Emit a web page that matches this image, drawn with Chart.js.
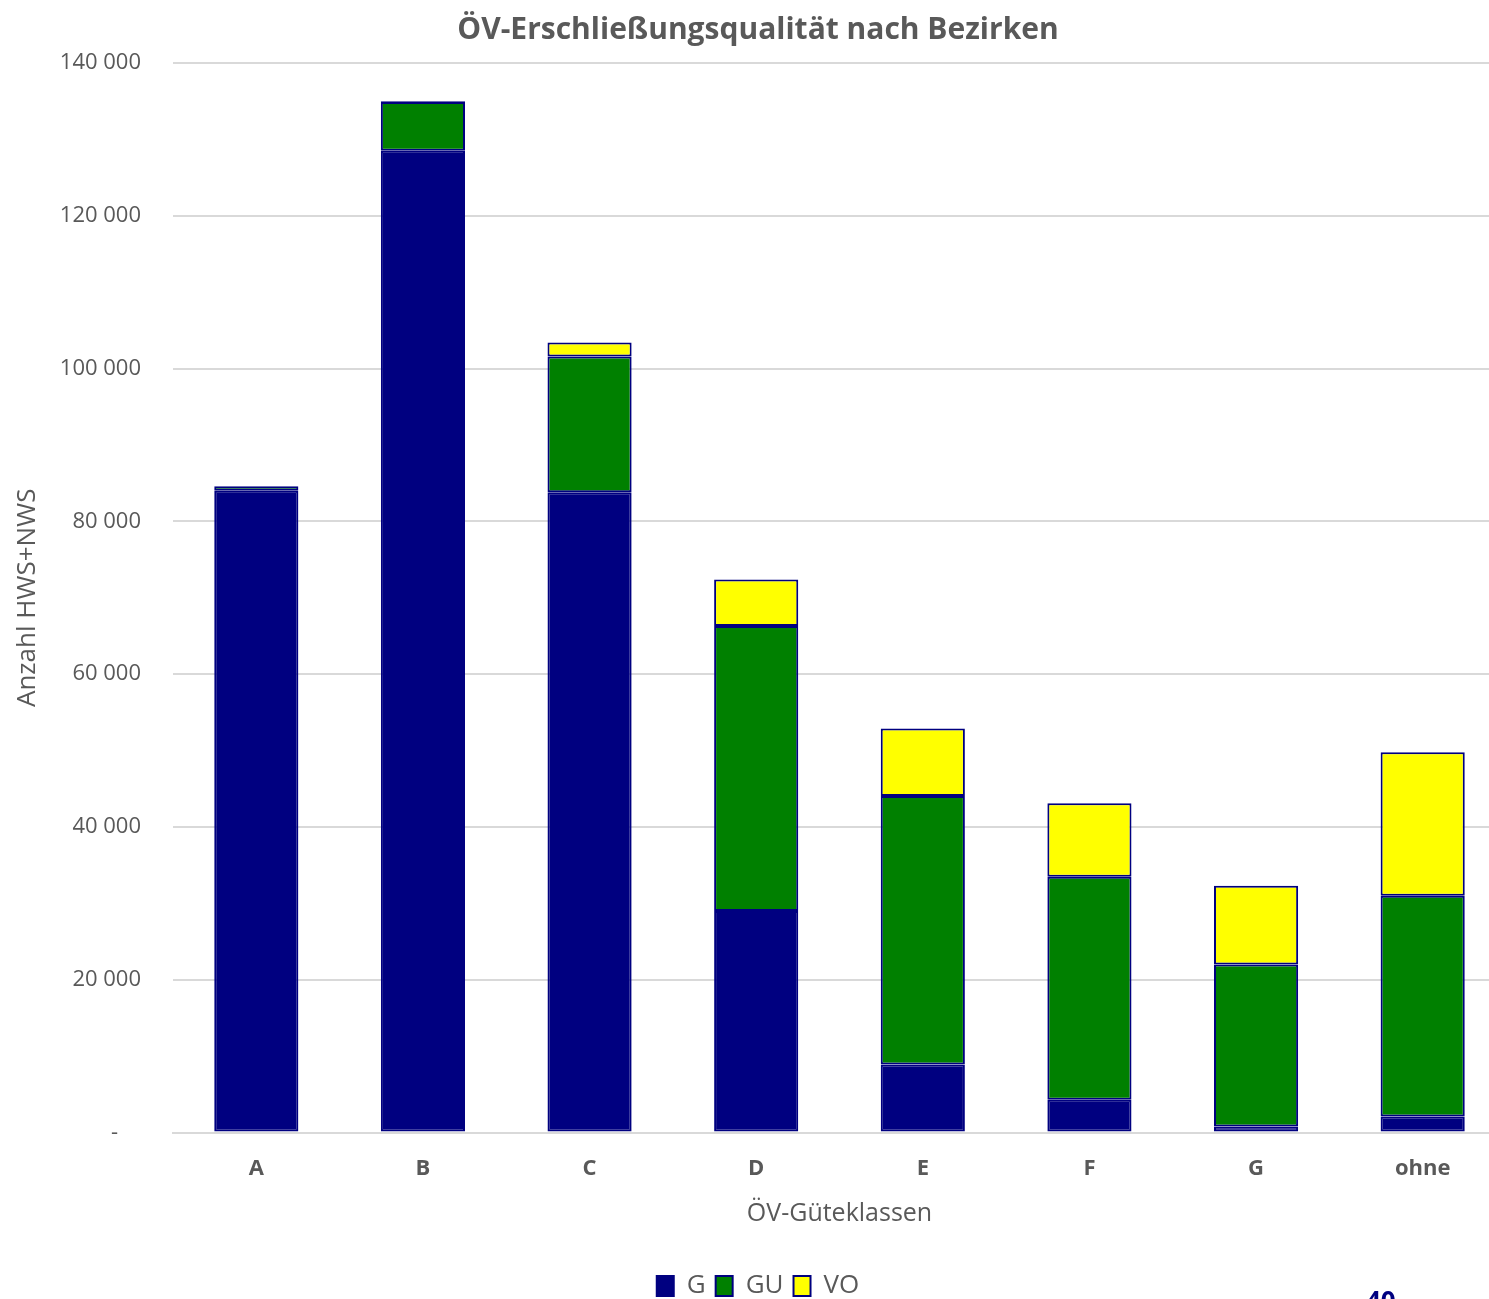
<!DOCTYPE html>
<html>
<head>
<meta charset="utf-8">
<script src="https://cdn.jsdelivr.net/npm/chart.js@4/dist/chart.umd.min.js"></script>
<style>
  html, body { margin: 0; padding: 0; background: #fff; overflow: hidden; width: 1489px; height: 1299px; }
  #wrap { position: absolute; left: 0; top: 0; width: 1512px; height: 1299px; }
  #pg { position: absolute; left: 1366px; top: 1282px; font: bold 26px "Open Sans", sans-serif; color: #000080; }
</style>
</head>
<body>
<div id="wrap"><canvas id="c"></canvas></div>
<div id="pg">40</div>
<script>
const categories = ['A', 'B', 'C', 'D', 'E', 'F', 'G', 'ohne'];
const seriesG  = [84.0, 128.5, 83.8, 29.0, 8.9, 4.3, 0.8, 2.1].map(v => v * 1000);
const seriesGU = [0.6, 6.4, 17.8, 37.3, 35.15, 29.2, 21.2, 28.9].map(v => v * 1000);
const seriesVO = [0, 0.1, 1.8, 6.1, 8.85, 9.6, 10.3, 18.8].map(v => v * 1000);
const yTicks = [0, 20000, 40000, 60000, 80000, 100000, 120000, 140000];

const gray = '#595959';
const font = '"Open Sans", "Noto Sans", sans-serif';
Chart.defaults.font.family = font;
Chart.defaults.color = gray;

function fmt(v) {
  if (v === 0) return '-    ';
  return String(v).replace(/\B(?=(\d{3})+(?!\d))/g, ' ');
}

const common = { borderColor: '#000080', borderWidth: 2, borderSkipped: false, barPercentage: 1, categoryPercentage: 0.505, stack: 's' };

new Chart(document.getElementById('c'), {
  type: 'bar',
  data: {
    labels: categories,
    datasets: [
      Object.assign({ label: 'G', data: seriesG, backgroundColor: '#000080' }, common),
      Object.assign({ label: 'GU', data: seriesGU, backgroundColor: '#008000' }, common),
      Object.assign({ label: 'VO', data: seriesVO, backgroundColor: '#FFFF00' }, common)
    ]
  },
  options: {
    responsive: true,
    maintainAspectRatio: false,
    animation: false,
    layout: { padding: { left: 10, right: 6, top: 0, bottom: -10 } },
    plugins: {
      title: {
        display: true,
        text: 'ÖV-Erschließungsqualität nach Bezirken',
        font: { size: 30, weight: 'bold', family: font },
        color: gray,
        padding: { top: 12, bottom: 15 }
      },
      legend: {
        position: 'bottom',
        labels: {
          boxWidth: 17, boxHeight: 20,
          font: { size: 26, family: font },
          color: gray,
          padding: 10
        }
      },
      tooltip: { enabled: false }
    },
    scales: {
      x: {
        stacked: true,
        grid: { display: false },
        border: { display: true, color: '#d9d9d9', width: 2 },
        ticks: { font: { size: 22, weight: 'bold', family: font }, color: gray, padding: 15 },
        title: { display: true, text: 'ÖV-Güteklassen', font: { size: 25, family: font }, color: gray, padding: { top: 2, bottom: 34 } }
      },
      y: {
        stacked: true,
        min: 0, max: 140000,
        afterBuildTicks: (axis) => { axis.ticks = yTicks.map(v => ({ value: v })); },
        afterFit: (axis) => { axis.width = 163; },
        grid: { color: '#d9d9d9', lineWidth: 2, drawTicks: false },
        border: { display: false },
        ticks: { font: { size: 22, family: font }, color: gray, padding: 32, callback: (v) => fmt(v) },
        title: { display: true, text: 'Anzahl HWS+NWS', font: { size: 26, family: font }, color: gray, padding: { top: 2, bottom: 0 } }
      }
    }
  }
});
</script>
</body>
</html>
